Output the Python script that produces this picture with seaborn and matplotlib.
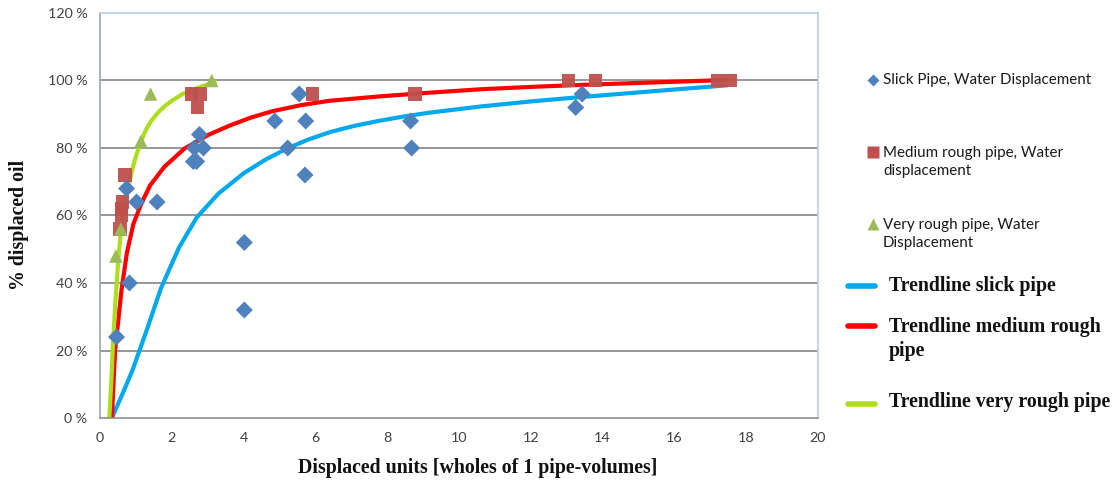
import numpy as np
import pandas as pd
import matplotlib
matplotlib.use("Agg")
import matplotlib.pyplot as plt
from matplotlib.lines import Line2D
from matplotlib.ticker import FuncFormatter
import seaborn as sns

# ---------------- data ----------------
slick_x = [0.46, 0.82, 0.74, 1.02, 1.59, 4.02, 4.02, 2.60, 2.69, 2.63, 2.88, 2.77,
           4.87, 5.55, 5.73, 5.23, 5.71, 8.65, 8.68, 13.25, 13.43]
slick_y = [24, 40, 68, 64, 64, 52, 32, 76, 76, 80, 80, 84,
           88, 96, 88, 80, 72, 88, 80, 92, 96]

medium_x = [0.70, 0.63, 0.60, 0.60, 0.55, 2.55, 2.79, 2.71, 5.92, 8.77, 13.05, 13.80, 17.20, 17.55]
medium_y = [72, 64, 62, 60, 56, 96, 96, 92, 96, 96, 100, 100, 100, 100]

rough_x = [0.44, 0.58, 1.14, 1.41, 3.11]
rough_y = [48, 56, 82, 96, 100]

trend_slick_x = [0.33, 0.6, 0.9, 1.3, 1.7, 2.2, 2.7, 3.3, 4.0, 4.6, 5.2, 5.8, 6.4, 7.1,
                 7.8, 8.5, 9.2, 10.6, 12.0, 13.4, 14.8, 16.2, 17.5]
trend_slick_y = [0, 6.5, 14, 26, 38.5, 50.5, 59.5, 66.5, 72.5, 76.5, 79.8, 82.5, 84.7, 86.6,
                 88.1, 89.4, 90.5, 92.3, 93.8, 95.1, 96.3, 97.5, 98.6]

trend_medium_x = [0.33, 0.42, 0.5, 0.6, 0.75, 0.93, 1.15, 1.4, 1.8, 2.35, 3.0, 3.6,
                  4.2, 4.8, 5.6, 6.4, 7.8, 9.2, 10.6, 12.0, 13.4, 14.8, 16.2, 17.5]
trend_medium_y = [0, 20, 28, 38, 49, 57.5, 63.5, 69.0, 74.5, 79.8, 83.8, 86.6,
                  89.0, 90.9, 92.7, 94.0, 95.3, 96.4, 97.4, 98.1, 98.7, 99.2, 99.7, 100.2]

trend_rough_x = [0.26, 0.32, 0.37, 0.44, 0.51, 0.58, 0.65, 0.74, 0.84, 0.92, 1.0, 1.08,
                 1.15, 1.22, 1.3, 1.4, 1.5, 1.6, 1.7, 1.85, 2.0, 2.3, 2.6, 2.9, 3.25]
trend_rough_y = [0, 12, 24, 36, 47, 55, 61.6, 66.6, 70.8, 74.5, 77.5, 80.0,
                 82.0, 84.0, 85.8, 87.6, 89.0, 90.3, 91.4, 92.8, 94.0, 96.0, 97.3, 98.5, 99.6]

x_ticks = [0, 2, 4, 6, 8, 10, 12, 14, 16, 18, 20]
y_ticks = [0, 20, 40, 60, 80, 100, 120]

series_labels = ["Slick Pipe, Water Displacement",
                 "Medium rough pipe, Water\ndisplacement",
                 "Very rough pipe, Water\nDisplacement"]
trend_labels = ["Trendline slick pipe",
                "Trendline medium rough\npipe",
                "Trendline very rough pipe"]

# ---------------- styling ----------------
marker_colors = ["#4F81BD", "#C0504D", "#9BBB59"]
trend_colors = ["#00A8EC", "#FF0000", "#ADDE1E"]
SANS = ["Lato", "DejaVu Sans"]
SERIF = ["Liberation Serif", "DejaVu Serif"]

sns.set_theme(style="white")
plt.rcParams["font.family"] = SANS

W, H = 1112, 486
fig = plt.figure(figsize=(W / 100, H / 100), dpi=100)
ax = fig.add_axes([100 / W, 68 / H, 718 / W, 405 / H])

def fx(px):
    return px / W

def fy(py):
    return 1 - py / H

# trendlines
trend_df = pd.concat([
    pd.DataFrame({"x": trend_slick_x, "y": trend_slick_y, "s": "slick"}),
    pd.DataFrame({"x": trend_medium_x, "y": trend_medium_y, "s": "medium"}),
    pd.DataFrame({"x": trend_rough_x, "y": trend_rough_y, "s": "rough"}),
])
for name, col in zip(["slick", "medium", "rough"], trend_colors):
    sub = trend_df[trend_df.s == name]
    sns.lineplot(data=sub, x="x", y="y", ax=ax, color=col, lw=3.0,
                 sort=False, estimator=None, legend=False, zorder=2,
                 solid_capstyle="butt", solid_joinstyle="round")

# scatter markers
sns.scatterplot(x=slick_x, y=slick_y, ax=ax, marker="D", s=75, color=marker_colors[0],
                edgecolor="none", zorder=4, legend=False)
sns.scatterplot(x=medium_x, y=medium_y, ax=ax, marker="s", s=95, color=marker_colors[1],
                edgecolor="none", zorder=3, legend=False, alpha=0.95)
sns.scatterplot(x=rough_x, y=rough_y, ax=ax, marker="^", s=95, color=marker_colors[2],
                edgecolor="none", zorder=3, legend=False)

# axes
ax.set_xlim(0, 20)
ax.set_ylim(0, 120)
ax.set_xticks(x_ticks)
ax.set_yticks(y_ticks)
ax.yaxis.set_major_formatter(FuncFormatter(lambda v, p: f"{v:.0f} %"))
ax.xaxis.set_major_formatter(FuncFormatter(lambda v, p: f"{v:.0f}"))
for y in y_ticks[1:-1]:
    ax.axhline(y, color="#8f8f8f", lw=1.3, zorder=1)
ax.set_xlabel("")
ax.set_ylabel("")
ax.tick_params(axis="both", which="both", direction="out", length=4, width=1,
               color="#8f8f8f", labelsize=10.3, labelcolor="#404040", pad=5)
ax.tick_params(axis="x", pad=6)
ax.spines["left"].set_color("#9aa8bb")
ax.spines["bottom"].set_color("#8f8f8f")
ax.spines["top"].set_color("#b9cde5")
ax.spines["right"].set_color("#b9cde5")
for s in ax.spines.values():
    s.set_linewidth(1.2)

# axis titles
fig.text(fx(478), fy(468), "Displaced units [wholes of 1 pipe-volumes]",
         family=SERIF, weight="bold", fontsize=14.3, ha="center", va="center", color="#111111")
fig.text(fx(19), fy(225), "% displaced oil", family=SERIF, weight="bold", fontsize=14.3,
         rotation=90, ha="center", va="center", color="#111111")

# legend (drawn manually to match irregular spacing)
mk = ["D", "s", "^"]
msz = [6, 8, 8]
mpos = [80, 152, 224]
tpos = [80, 162, 234]
for m, c, ms, my, ty, lab in zip(mk, marker_colors, msz, mpos, tpos, series_labels):
    fig.add_artist(Line2D([fx(873)], [fy(my)], marker=m, markersize=ms, color=c,
                          markeredgecolor="none", linestyle="none"))
    fig.text(fx(883), fy(ty), lab, family=SANS, fontsize=10.9, ha="left", va="center",
             color="#1a1a1a", linespacing=1.35)

lpos = [286, 326, 404]
ltpos = [286, 339, 402]
for c, ly, ty, lab in zip(trend_colors, lpos, ltpos, trend_labels):
    fig.add_artist(Line2D([fx(848), fx(875)], [fy(ly), fy(ly)], color=c, lw=4,
                          solid_capstyle="round"))
    fig.text(fx(889), fy(ty), lab, family=SERIF, weight="bold", fontsize=14.3,
             ha="left", va="center", color="#111111", linespacing=1.28)

fig.savefig("out.png", dpi=100)
